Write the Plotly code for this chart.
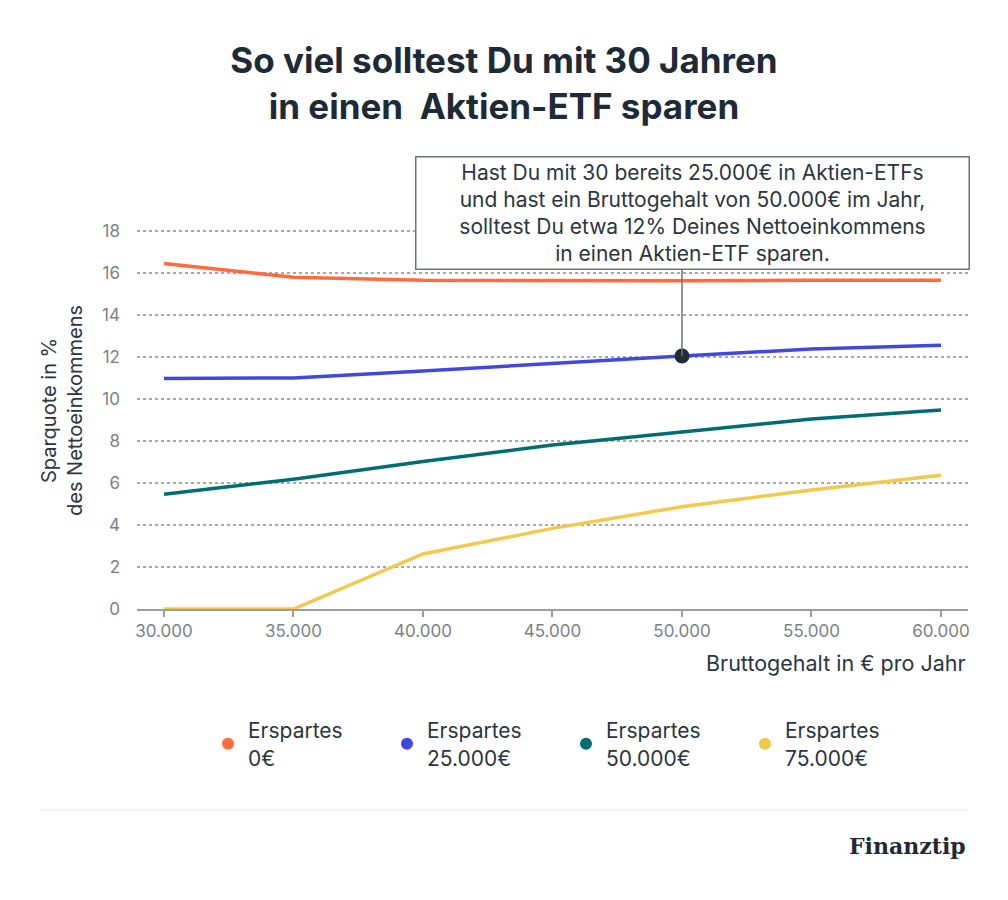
import plotly.graph_objects as go

salaries = [30000, 35000, 40000, 45000, 50000, 55000, 60000]
series_names = ["Erspartes<br>0€", "Erspartes<br>25.000€", "Erspartes<br>50.000€", "Erspartes<br>75.000€"]
saved_0 = [16.45, 15.8, 15.65, 15.62, 15.63, 15.65, 15.65]
saved_25k = [10.98, 11.0, 11.33, 11.7, 12.05, 12.38, 12.56]
saved_50k = [5.46, 6.18, 7.02, 7.81, 8.43, 9.05, 9.48]
saved_75k = [0.0, 0.0, 2.62, 3.84, 4.87, 5.67, 6.37]
colors = ["#ff6b3d", "#4048e0", "#006d72", "#f2c94c"]
highlight_x = 50000
highlight_y = 12.05
x_ticks = [30000, 35000, 40000, 45000, 50000, 55000, 60000]
x_ticklabels = ["30.000", "35.000", "40.000", "45.000", "50.000", "55.000", "60.000"]
y_ticks = [0, 2, 4, 6, 8, 10, 12, 14, 16, 18]

FONT = "Inter"
DARK = "#1e2a36"
TEXT = "#2b3640"

fig = go.Figure()
for name, vals, c in zip(series_names, [saved_0, saved_25k, saved_50k, saved_75k], colors):
    fig.add_trace(go.Scatter(x=salaries, y=vals, mode="lines", line=dict(color=c, width=3.5),
                             showlegend=False, hoverinfo="skip"))
for name, c in zip(series_names, colors):
    fig.add_trace(go.Scatter(x=[None], y=[None], mode="markers", name=name,
                             marker=dict(color=c, size=15, symbol="circle")))

# connector line from box to point
fig.add_shape(type="line", xref="x", yref="paper", x0=highlight_x, x1=highlight_x,
              y0=(609 - 356) / 382, y1=(609 - 270) / 382,
              line=dict(color="#6d737a", width=1.5), layer="above")
fig.add_trace(go.Scatter(x=[highlight_x], y=[highlight_y], mode="markers", showlegend=False,
                         marker=dict(color="#222c35", size=15), hoverinfo="skip"))

fig.add_annotation(xref="paper", yref="paper", x=(692 - 137) / 831, y=(609 - 213.5) / 382,
                   xanchor="center", yanchor="middle",
                   text="Hast Du mit 30 bereits 25.000€ in Aktien-ETFs<br>und hast ein Bruttogehalt von 50.000€ im Jahr,<br>solltest Du etwa 12% Deines Nettoeinkommens<br>in einen Aktien-ETF sparen.",
                   showarrow=False, font=dict(family=FONT, size=21, color=TEXT),
                   bgcolor="white", bordercolor="#6d737a", borderwidth=1.5,
                   width=550, height=109, borderpad=1, align="center")

fig.add_annotation(xref="paper", yref="paper", x=(62 - 137) / 831, y=(609 - 411) / 382,
                   text="Sparquote in %<br>des Nettoeinkommens", textangle=-90, showarrow=False,
                   font=dict(family=FONT, size=20, color=TEXT), xanchor="center", yanchor="middle")
fig.add_annotation(xref="paper", yref="paper", x=1.0, y=(609 - 663) / 382,
                   text="Bruttogehalt in € pro Jahr", showarrow=False, xanchor="right", yanchor="middle",
                   font=dict(family=FONT, size=21.5, color=TEXT))

fig.add_shape(type="line", xref="paper", yref="paper", x0=(40 - 137) / 831, x1=1.0,
              y0=(609 - 810) / 382, y1=(609 - 810) / 382, line=dict(color="#ebebeb", width=1))
fig.add_annotation(xref="paper", yref="paper", x=1.0, y=(609 - 846) / 382,
                   text="<b>Finanztip</b>", showarrow=False, xanchor="right", yanchor="middle",
                   font=dict(family="DejaVu Serif", size=22, color=DARK))

fig.update_layout(
    width=1008, height=900,
    paper_bgcolor="white", plot_bgcolor="white",
    margin=dict(l=137, r=40, t=227, b=291),
    title=dict(text="<b>So viel solltest Du mit 30 Jahren<br>in einen  Aktien-ETF sparen</b>",
               x=0.5, xanchor="center", y=1 - 73 / 900, yanchor="middle",
               font=dict(family=FONT, size=35, color=DARK)),
    font=dict(family=FONT),
    xaxis=dict(range=[28958, 61043], tickvals=x_ticks, ticktext=x_ticklabels, showgrid=False,
               zeroline=False, showline=True, linecolor="#9a9ea3", linewidth=2,
               ticks="outside", ticklen=6, tickcolor="#9a9ea3", tickwidth=1.5,
               tickfont=dict(family=FONT, size=17, color="#7d8186")),
    yaxis=dict(range=[0, 18.19], tickvals=y_ticks, showgrid=True, gridcolor="#a8a8a8",
               griddash="dot", gridwidth=1.5, zeroline=False, showline=False,
               ticklabelstandoff=16,
               tickfont=dict(family=FONT, size=17, color="#7d8186")),
    legend=dict(orientation="h", xref="container", yref="container", x=208 / 1008, y=1 - 710 / 900,
                xanchor="left", yanchor="top", entrywidth=134, entrywidthmode="pixels",
                font=dict(family=FONT, size=21, color=TEXT), valign="middle", itemsizing="constant"),
    showlegend=True,
)

fig.write_html("out.html")
